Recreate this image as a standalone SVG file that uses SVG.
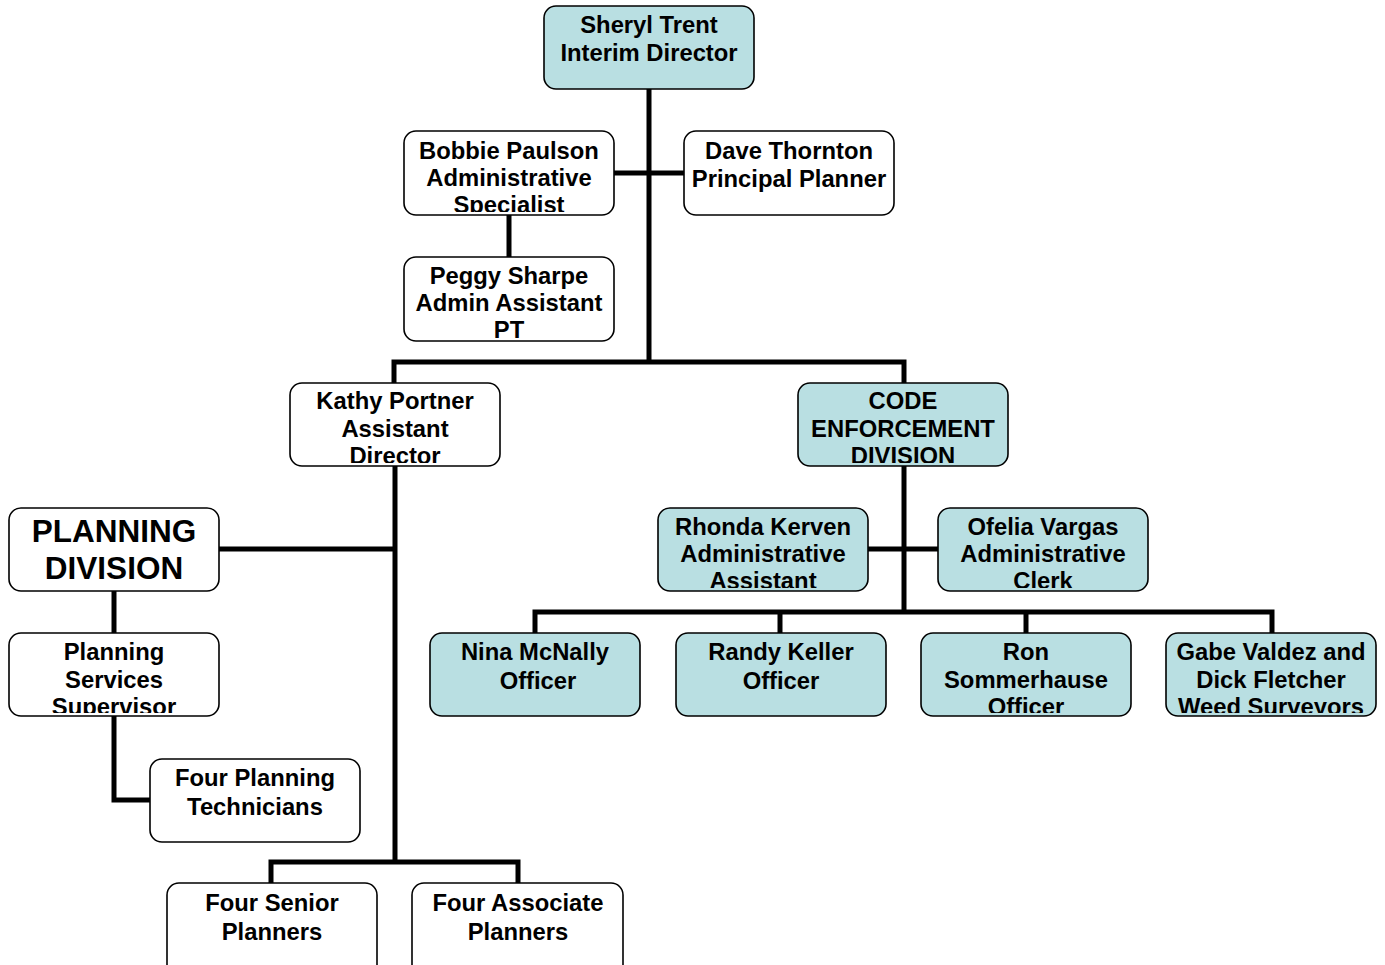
<svg xmlns="http://www.w3.org/2000/svg" width="1385" height="965" viewBox="0 0 1385 965">
<style>
.box{fill:#ffffff;stroke:#000;stroke-width:1.6}
.blue{fill:#b9dfe2}
.t{font-family:"Liberation Sans",Arial,sans-serif;font-weight:bold;font-size:23.8px;fill:#000;text-anchor:middle}
.big{font-size:31.5px}
.c{fill:none;stroke:#000;stroke-width:5;stroke-linejoin:miter;stroke-linecap:butt}
</style>
<defs>
<clipPath id="cBobbie" clipPathUnits="userSpaceOnUse"><rect x="404" y="131" width="210" height="81"/></clipPath>
<clipPath id="cPeggy" clipPathUnits="userSpaceOnUse"><rect x="404" y="257" width="210" height="81"/></clipPath>
<clipPath id="cKathy" clipPathUnits="userSpaceOnUse"><rect x="290" y="383" width="210" height="80"/></clipPath>
<clipPath id="cCode" clipPathUnits="userSpaceOnUse"><rect x="798" y="383" width="210" height="80"/></clipPath>
<clipPath id="cRhonda" clipPathUnits="userSpaceOnUse"><rect x="658" y="508" width="210" height="80"/></clipPath>
<clipPath id="cOfelia" clipPathUnits="userSpaceOnUse"><rect x="938" y="508" width="210" height="80"/></clipPath>
<clipPath id="cPSS" clipPathUnits="userSpaceOnUse"><rect x="9" y="633" width="210" height="80"/></clipPath>
<clipPath id="cRon" clipPathUnits="userSpaceOnUse"><rect x="921" y="633" width="210" height="80"/></clipPath>
<clipPath id="cGabe" clipPathUnits="userSpaceOnUse"><rect x="1166" y="633" width="210" height="80"/></clipPath>
</defs>

<g id="connectors">
<path class="c" d="M649,89 V362"/>
<path class="c" d="M614,173 H684"/>
<path class="c" d="M509,215 V257"/>
<path class="c" d="M394,383 V362 H904 V383"/>
<path class="c" d="M395,466 V862"/>
<path class="c" d="M219,549 H395"/>
<path class="c" d="M271,883 V862 H518 V883"/>
<path class="c" d="M114,591 V633"/>
<path class="c" d="M114,716 V800 H150"/>
<path class="c" d="M904,466 V612"/>
<path class="c" d="M868,549 H938"/>
<path class="c" d="M535,633 V612 H1272 V633"/>
<path class="c" d="M780,612 V633"/>
<path class="c" d="M1026,612 V633"/>
</g>

<g id="sheryl">
<rect class="box blue" x="544" y="6" width="210" height="83" rx="12"/>
<text class="t" x="649" y="33">Sheryl Trent</text>
<text class="t" x="649" y="61">Interim Director</text>
</g>

<g id="bobbie">
<rect class="box" x="404" y="131" width="210" height="84" rx="12"/>
<g clip-path="url(#cBobbie)">
<text class="t" x="509" y="159">Bobbie Paulson</text>
<text class="t" x="509" y="186">Administrative</text>
<text class="t" x="509" y="213">Specialist</text>
</g>
</g>

<g id="dave">
<rect class="box" x="684" y="131" width="210" height="84" rx="12"/>
<text class="t" x="789" y="159">Dave Thornton</text>
<text class="t" x="789" y="187">Principal Planner</text>
</g>

<g id="peggy">
<rect class="box" x="404" y="257" width="210" height="84" rx="12"/>
<g clip-path="url(#cPeggy)">
<text class="t" x="509" y="284">Peggy Sharpe</text>
<text class="t" x="509" y="311">Admin Assistant</text>
<text class="t" x="509" y="338">PT</text>
</g>
</g>

<g id="kathy">
<rect class="box" x="290" y="383" width="210" height="83" rx="12"/>
<g clip-path="url(#cKathy)">
<text class="t" x="395" y="409">Kathy Portner</text>
<text class="t" x="395" y="437">Assistant</text>
<text class="t" x="395" y="464">Director</text>
</g>
</g>

<g id="code">
<rect class="box blue" x="798" y="383" width="210" height="83" rx="12"/>
<g clip-path="url(#cCode)">
<text class="t" x="903" y="409">CODE</text>
<text class="t" x="903" y="437">ENFORCEMENT</text>
<text class="t" x="903" y="464">DIVISION</text>
</g>
</g>

<g id="planning-division">
<rect class="box" x="9" y="508" width="210" height="83" rx="12"/>
<text class="t big" x="114" y="542">PLANNING</text>
<text class="t big" x="114" y="579">DIVISION</text>
</g>

<g id="rhonda">
<rect class="box blue" x="658" y="508" width="210" height="83" rx="12"/>
<g clip-path="url(#cRhonda)">
<text class="t" x="763" y="535">Rhonda Kerven</text>
<text class="t" x="763" y="562">Administrative</text>
<text class="t" x="763" y="589">Assistant</text>
</g>
</g>

<g id="ofelia">
<rect class="box blue" x="938" y="508" width="210" height="83" rx="12"/>
<g clip-path="url(#cOfelia)">
<text class="t" x="1043" y="535">Ofelia Vargas</text>
<text class="t" x="1043" y="562">Administrative</text>
<text class="t" x="1043" y="589">Clerk</text>
</g>
</g>

<g id="planning-services">
<rect class="box" x="9" y="633" width="210" height="83" rx="12"/>
<g clip-path="url(#cPSS)">
<text class="t" x="114" y="660">Planning</text>
<text class="t" x="114" y="688">Services</text>
<text class="t" x="114" y="715">Supervisor</text>
</g>
</g>

<g id="nina">
<rect class="box blue" x="430" y="633" width="210" height="83" rx="12"/>
<text class="t" x="535" y="660">Nina McNally</text>
<text class="t" x="538" y="689">Officer</text>
</g>

<g id="randy">
<rect class="box blue" x="676" y="633" width="210" height="83" rx="12"/>
<text class="t" x="781" y="660">Randy Keller</text>
<text class="t" x="781" y="689">Officer</text>
</g>

<g id="ron">
<rect class="box blue" x="921" y="633" width="210" height="83" rx="12"/>
<g clip-path="url(#cRon)">
<text class="t" x="1026" y="660">Ron</text>
<text class="t" x="1026" y="688">Sommerhause</text>
<text class="t" x="1026" y="715">Officer</text>
</g>
</g>

<g id="gabe">
<rect class="box blue" x="1166" y="633" width="210" height="83" rx="12"/>
<g clip-path="url(#cGabe)">
<text class="t" x="1271" y="660">Gabe Valdez and</text>
<text class="t" x="1271" y="688">Dick Fletcher</text>
<text class="t" x="1271" y="715">Weed Surveyors</text>
</g>
</g>

<g id="technicians">
<rect class="box" x="150" y="759" width="210" height="83" rx="12"/>
<text class="t" x="255" y="786">Four Planning</text>
<text class="t" x="255" y="815">Technicians</text>
</g>

<g id="senior">
<rect class="box" x="167" y="883" width="210" height="110" rx="12"/>
<text class="t" x="272" y="911">Four Senior</text>
<text class="t" x="272" y="940">Planners</text>
</g>

<g id="associate">
<rect class="box" x="412" y="883" width="211" height="110" rx="12"/>
<text class="t" x="518" y="911">Four Associate</text>
<text class="t" x="518" y="940">Planners</text>
</g>
</svg>
